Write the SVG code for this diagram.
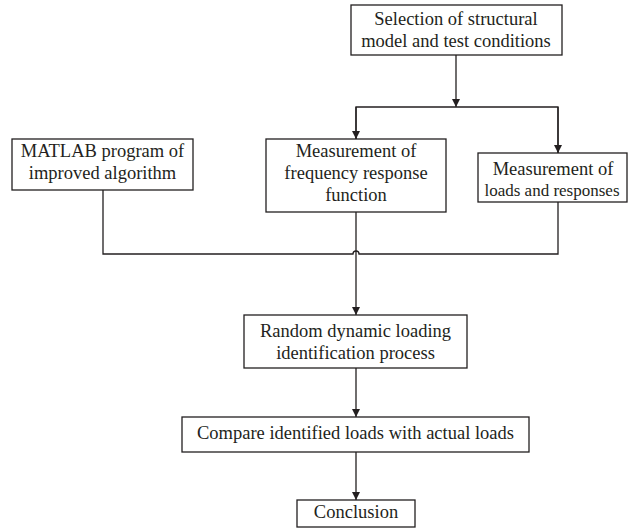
<svg xmlns="http://www.w3.org/2000/svg" width="629" height="529" viewBox="0 0 629 529">
<style>
.box{fill:#fff;stroke:#231f20;stroke-width:1.3}
.ln{fill:none;stroke:#231f20;stroke-width:1.3}
text{font-family:"Liberation Serif","Times New Roman",serif;font-size:18.5px;fill:#231f20;text-anchor:middle}
</style>
<defs>
<marker id="ah" markerWidth="8" markerHeight="10" refX="8" refY="4" orient="auto" markerUnits="userSpaceOnUse" viewBox="0 0 8 8">
<path d="M0,0 L8,4 L0,8 Z" fill="#231f20"/>
</marker>
</defs>
<rect width="629" height="529" fill="#fff"/>
<g id="connectors">
<path class="ln" d="M456,55 V107" marker-end="url(#ah)"/>
<path class="ln" d="M356,139 V107 H558 V153"/>
<path class="ln" d="M356,107 V139" marker-end="url(#ah)"/>
<path class="ln" d="M558,107 V153" marker-end="url(#ah)"/>
<path class="ln" d="M103,190 V254 H353 A3,3 0 0 1 359,254 H558 V202"/>
<path class="ln" d="M356,212 V315" marker-end="url(#ah)"/>
<path class="ln" d="M356,368 V417" marker-end="url(#ah)"/>
<path class="ln" d="M356,452 V500" marker-end="url(#ah)"/>
</g>
<g id="n-selection">
<rect class="box" x="351" y="5" width="211" height="50"/>
<text x="456" y="25">Selection of structural</text>
<text x="456" y="47">model and test conditions</text>
</g>
<g id="n-matlab">
<rect class="box" x="12" y="139" width="181" height="51"/>
<text x="102.5" y="157">MATLAB program of</text>
<text x="102.5" y="179">improved algorithm</text>
</g>
<g id="n-frf">
<rect class="box" x="266" y="139" width="180" height="73"/>
<text x="356" y="157">Measurement of</text>
<text x="356" y="179">frequency response</text>
<text x="356" y="201">function</text>
</g>
<g id="n-loads">
<rect class="box" x="478" y="153" width="149" height="49"/>
<text x="553" y="175">Measurement of</text>
<text x="552" y="196" style="font-size:17px">loads and responses</text>
</g>
<g id="n-random">
<rect class="box" x="244" y="315" width="223" height="53"/>
<text x="355.5" y="337">Random dynamic loading</text>
<text x="355.5" y="359">identification process</text>
</g>
<g id="n-compare">
<rect class="box" x="182" y="417" width="347" height="35"/>
<text x="355.5" y="439">Compare identified loads with actual loads</text>
</g>
<g id="n-conclusion">
<rect class="box" x="297" y="500" width="118" height="27"/>
<text x="356" y="518">Conclusion</text>
</g>
</svg>
